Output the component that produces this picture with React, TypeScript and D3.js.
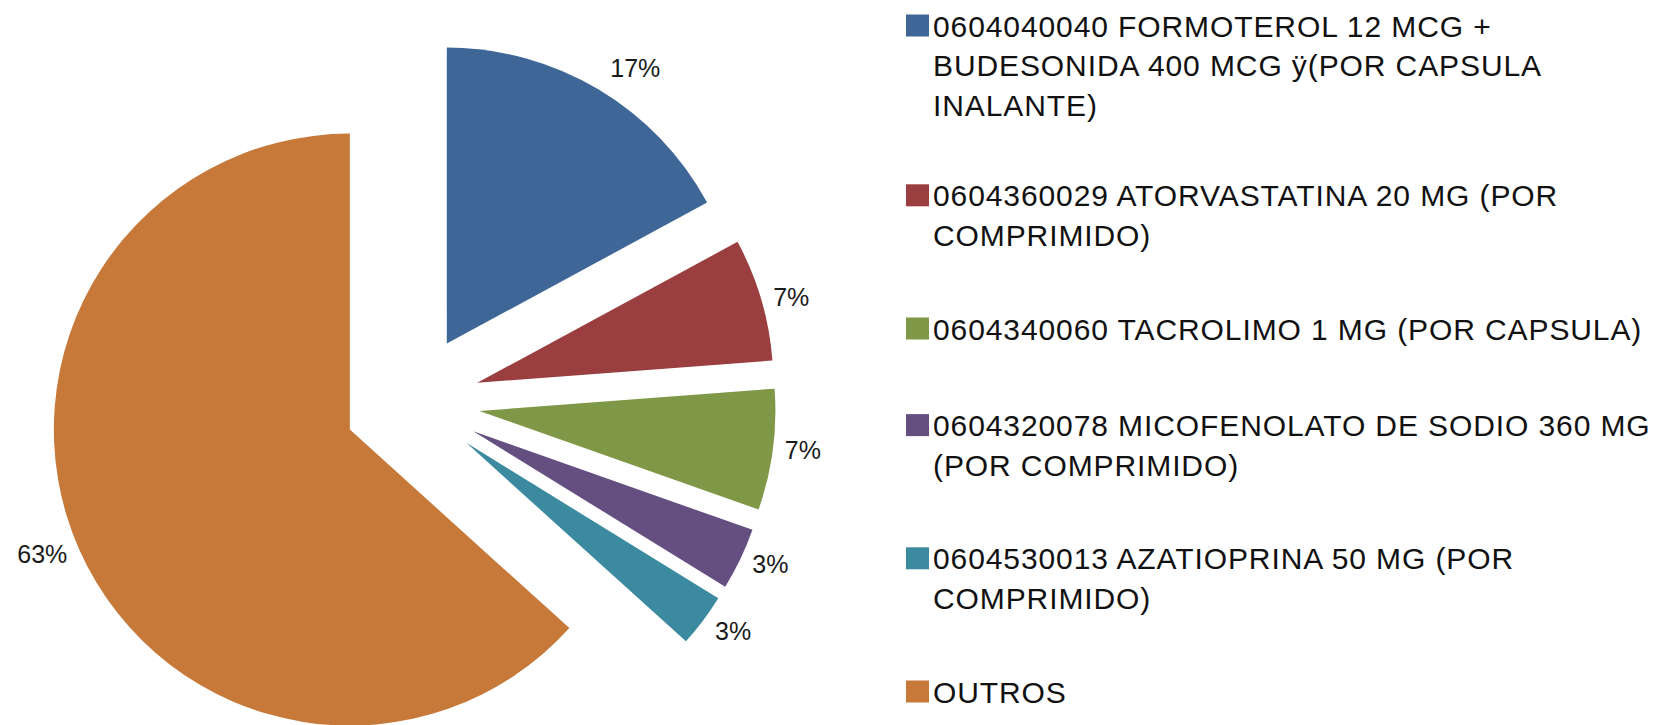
import React from "react";
import * as d3 from "d3";

// ---- data ----
const categories: string[][] = [
  ["0604040040 FORMOTEROL 12 MCG +", "BUDESONIDA 400 MCG \u00ff(POR CAPSULA", "INALANTE)"],
  ["0604360029 ATORVASTATINA 20 MG (POR", "COMPRIMIDO)"],
  ["0604340060 TACROLIMO 1 MG (POR CAPSULA)"],
  ["0604320078 MICOFENOLATO DE SODIO 360 MG", "(POR COMPRIMIDO)"],
  ["0604530013 AZATIOPRINA 50 MG (POR", "COMPRIMIDO)"],
  ["OUTROS"],
];
const values: number[] = [17.1, 6.7, 6.6, 3.4, 2.9, 63.3];
const colors: string[] = ["#3E6696", "#9A3E3F", "#7F9847", "#654F81", "#3C8AA0", "#C7793A"];

const W = 1656;
const H = 725;
const cx = 412;
const cy = 402;
const radius = 296;
const explode = 68;
const labelFont = 25;
const legendFont = 30;

export default function App() {
  const total = d3.sum(values);
  const pie = d3
    .pie<number>()
    .sort(null)
    .value((v) => v)
    .startAngle(0)
    .endAngle(2 * Math.PI);
  const arcs = pie(values);
  const arcGen = d3.arc<d3.PieArcDatum<number>>().innerRadius(0).outerRadius(radius);

  const fmt = (v: number) => `${Math.round((v / total) * 100)}%`;

  // legend layout
  const legendX = 906;
  const textX = 933;
  const lineH = 39.5;
  let baseline = 36.5;
  const legendItems = categories.map((lines, i) => {
    const y = baseline;
    baseline += 60 + 36.6 * lines.length;
    return { lines, y, color: colors[i] };
  });

  return (
    <svg
      width={W}
      height={H}
      style={{ position: "absolute", left: 0, top: 0, background: "#fff" }}
      fontFamily="'Liberation Sans', Arial, sans-serif"
    >
      <rect x={0} y={0} width={W} height={H} fill="#ffffff" />
      {arcs.map((a, i) => {
        const mid = (a.startAngle + a.endAngle) / 2;
        const dx = Math.sin(mid);
        const dy = -Math.cos(mid);
        const ox = cx + explode * dx;
        const oy = cy + explode * dy;
        const label = fmt(a.value);
        const w = (label.length - 1) * 0.556 * labelFont + 0.889 * labelFont;
        const px = ox + radius * dx;
        const py = oy + radius * dy;
        const lx = px + Math.sign(dx) * (w / 2 + 12);
        const ly = py + dy * Math.abs(dy) * 29;
        return (
          <g key={i}>
            <path d={arcGen(a) || ""} transform={`translate(${ox},${oy})`} fill={colors[i]} />
            <text
              x={lx}
              y={ly}
              textAnchor="middle"
              dominantBaseline="central"
              fontSize={labelFont}
              fill="#1a1a1a"
            >
              {label}
            </text>
          </g>
        );
      })}
      {legendItems.map((it, i) => (
        <g key={"lg" + i}>
          <rect x={legendX} y={it.y - 22} width={23} height={22} fill={it.color} />
          <text x={textX} y={it.y} fontSize={legendFont} fill="#111" letterSpacing={0.9}>
            {it.lines.map((ln, j) => (
              <tspan key={j} x={textX} y={it.y + j * lineH}>
                {ln}
              </tspan>
            ))}
          </text>
        </g>
      ))}
    </svg>
  );
}
